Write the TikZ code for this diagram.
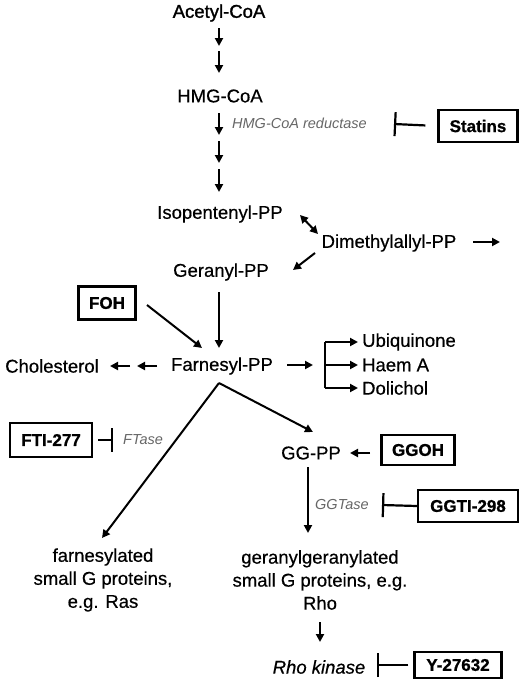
\documentclass[tikz,border=0pt]{standalone}
\usepackage{fontspec}
\setmainfont{Liberation Sans}
\newfontfamily\labfont{Liberation Sans}[FakeBold=0.5]
\newfontfamily\topfont{Liberation Sans}[FakeBold=1.4]
\newfontfamily\drugfont{Liberation Sans Bold}[FakeBold=0.9]
\usetikzlibrary{arrows.meta}
\begin{document}
\begin{tikzpicture}[x=1pt,y=-1pt,
  lbl/.style={font=\fontsize{18.5}{23}\labfont\selectfont, inner sep=0pt, align=center},
  enz/.style={font=\fontsize{14.5}{17}\itshape\selectfont, text=black!60, inner sep=0pt},
  drug/.style={draw, line width=2.2pt, font=\fontsize{17}{20}\drugfont\selectfont, inner sep=0pt},
  ar/.style={-{Triangle[length=8pt,width=8pt]}, line width=2pt},
  dar/.style={{Triangle[length=8pt,width=8pt]}-{Triangle[length=8pt,width=8pt]}, line width=2pt},
  inh/.style={-{Bar[width=24pt]}, line width=2.2pt},
  plain/.style={line width=2pt},
]
\useasboundingbox (0,0) rectangle (520,688);
% metabolites
\node[lbl, font=\fontsize{18.5}{23}\topfont\selectfont] (acetyl) at (219,13) {Acetyl-CoA};
\node[lbl] (hmg) at (220,96) {HMG-CoA};
\node[lbl] (ipp) at (220,214) {Isopentenyl-PP};
\node[lbl] (dmapp) at (389,243) {Dimethylallyl-PP};
\node[lbl] (gpp) at (221,272) {Geranyl-PP};
\node[lbl] (fpp) at (222,366) {Farnesyl-PP};
\node[lbl] (chol) at (52,366) {Cholesterol};
\node[lbl, anchor=west] (ubi) at (362,342) {Ubiquinone};
\node[lbl, anchor=west] (haem) at (362,365) {Haem A};
\node[lbl, anchor=west] (doli) at (362,388) {Dolichol};
\node[lbl] (ggpp) at (311,453) {GG-PP};
\node[lbl] (fprot) at (103,580) {farnesylated\\small G proteins,\\e.g. Ras};
\node[lbl] (ggprot) at (320,580) {geranylgeranylated\\small G proteins, e.g.\\Rho};
\node[lbl, font=\fontsize{18.5}{23}\labfont\itshape\selectfont] (rock) at (319,667) {Rho kinase};
% enzymes
\node[enz, anchor=west] (hmgr) at (232,123) {HMG-CoA reductase};
\node[enz, anchor=west] (ftase) at (123,440) {FTase};
\node[enz, anchor=west] (ggtase) at (315,505) {GGTase};
% drugs
\node[drug, minimum width=79pt, minimum height=32pt] (statins) at (478,126) {Statins};
\node[drug, minimum width=57pt, minimum height=33pt] (foh) at (107,303) {FOH};
\node[drug, minimum width=82pt, minimum height=34pt] (fti) at (51,440) {FTI-277};
\node[drug, minimum width=73pt, minimum height=30pt] (ggoh) at (418,450) {GGOH};
\node[drug, minimum width=100pt, minimum height=32pt] (ggti) at (468,506) {GGTI-298};
\node[drug, minimum width=87pt, minimum height=26pt] (y27) at (458,665) {Y-27632};
% coordinates
\coordinate (a1) at (219,28); \coordinate (a2) at (219,46);
\coordinate (a3) at (219,51); \coordinate (a4) at (219,73);
\coordinate (h1) at (219,113); \coordinate (h2) at (219,135);
\coordinate (h3) at (219,141); \coordinate (h4) at (219,163);
\coordinate (h5) at (219,169); \coordinate (h6) at (219,192);
\coordinate (i1) at (300,215); \coordinate (i2) at (318,234);
\coordinate (d1) at (473,242); \coordinate (d2) at (500,242);
\coordinate (d3) at (315,253); \coordinate (d4) at (293,270);
\coordinate (g1) at (219,292); \coordinate (g2) at (219,348);
\coordinate (f1) at (147,305); \coordinate (f2) at (202,348);
\coordinate (c1) at (130,366); \coordinate (c2) at (110,366);
\coordinate (c3) at (157,366); \coordinate (c4) at (137,366);
\coordinate (r1) at (287,365); \coordinate (r2) at (313,365);
\coordinate (bt) at (325,342); \coordinate (bm) at (325,365); \coordinate (bb) at (325,388);
\coordinate (fb) at (219,383);
\coordinate (fp) at (102,538); \coordinate (gp) at (313,432);
\coordinate (stb) at (394,124);
\coordinate (ftb) at (113,440);
\coordinate (go1) at (370,453); \coordinate (go2) at (350,453);
\coordinate (gg1) at (308,467); \coordinate (gg2) at (308,533);
\coordinate (gtb) at (382,505);
\coordinate (rh1) at (320,622); \coordinate (rh2) at (320,642);
\coordinate (rkb) at (377,665);
% connectors
\draw[ar] (a1) -- (a2);
\draw[ar] (a3) -- (a4);
\draw[ar] (h1) -- (h2);
\draw[ar] (h3) -- (h4);
\draw[ar] (h5) -- (h6);
\draw[dar] (i1) -- (i2);
\draw[ar] (d1) -- (d2);
\draw[ar] (d3) -- (d4);
\draw[ar] (g1) -- (g2);
\draw[ar] (f1) -- (f2);
\draw[ar] (c1) -- (c2);
\draw[ar] (c3) -- (c4);
\draw[ar] (r1) -- (r2);
\draw[plain] (bt) -- (bb);
\draw[ar] (bt) -- ([xshift=-4pt]ubi.west);
\draw[ar] (bm) -- ([xshift=-4pt]haem.west);
\draw[ar] (bb) -- ([xshift=-4pt]doli.west);
\draw[ar] (fb) -- (fp);
\draw[ar] (fb) -- (gp);
\draw[inh, shorten <=12pt] (statins.west) -- (stb);
\draw[inh, shorten <=5pt] (fti.east) -- (ftb);
\draw[ar] (go1) -- (go2);
\draw[ar] (gg1) -- (gg2);
\draw[inh] (ggti.west) -- (gtb);
\draw[ar] (rh1) -- (rh2);
\draw[inh, shorten <=5pt] (y27.west) -- (rkb);
\end{tikzpicture}
\end{document}
